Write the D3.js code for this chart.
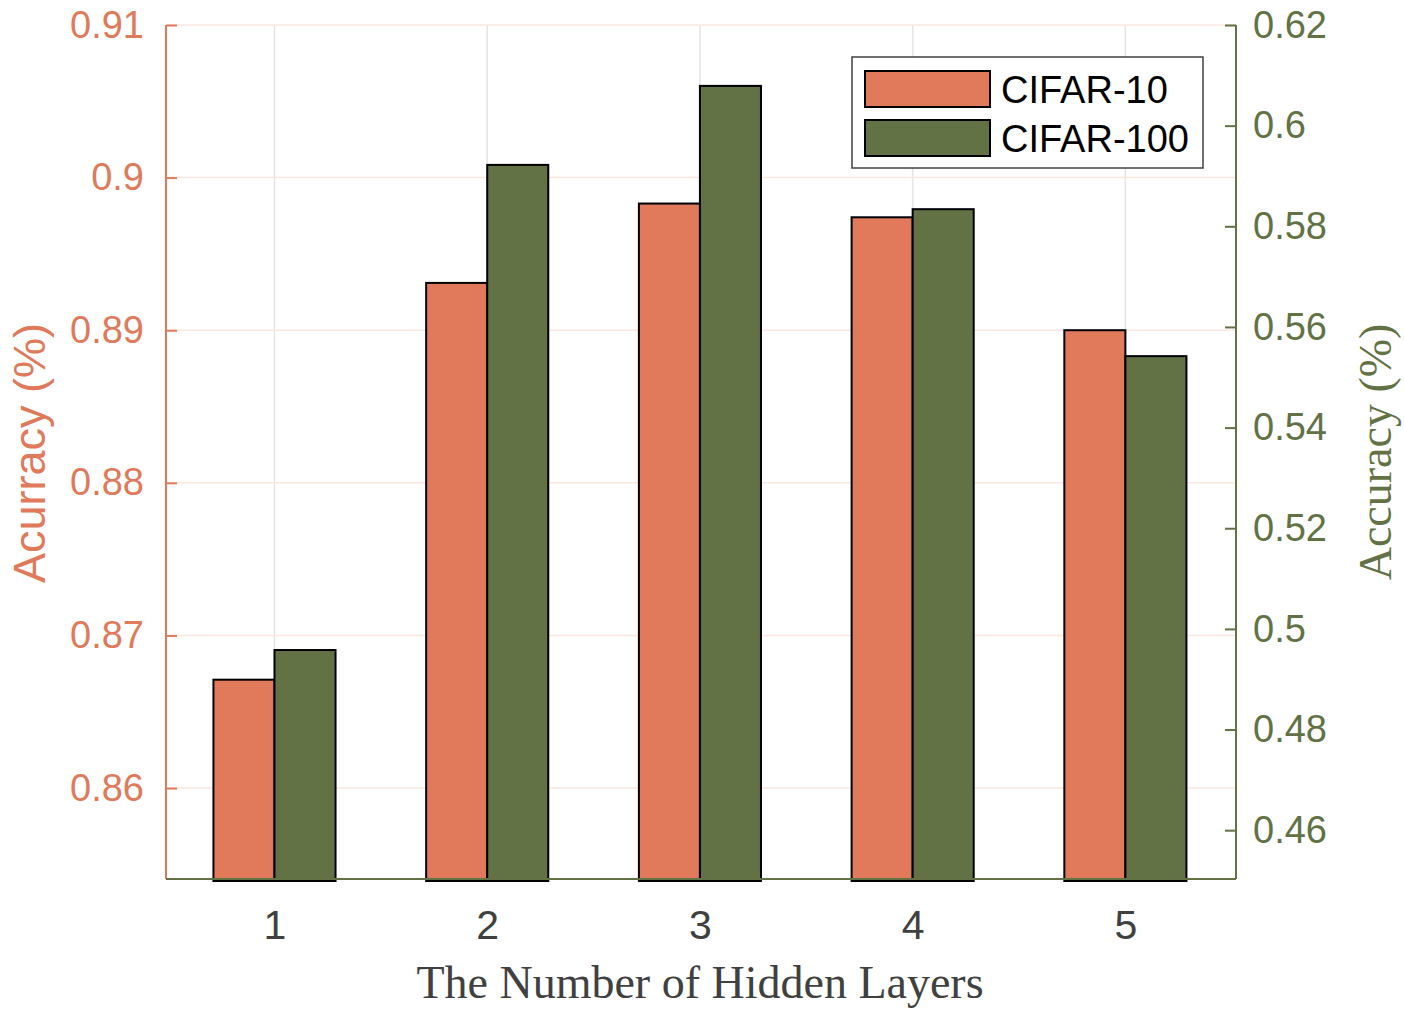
<!DOCTYPE html>
<html>
<head>
<meta charset="utf-8">
<script src="https://cdn.jsdelivr.net/npm/d3@7"></script>
<style>
  body { margin: 0; background: #fff; }
  svg { display: block; }
</style>
</head>
<body>
<script>
// data
var layers = [1, 2, 3, 4, 5];
var cifar10 = [0.8671, 0.8931, 0.8983, 0.8974, 0.8900];
var cifar100 = [0.4958, 0.5922, 0.6079, 0.5834, 0.5542];
var leftTicks = [0.86, 0.87, 0.88, 0.89, 0.90, 0.91];
var rightTicks = [0.46, 0.48, 0.50, 0.52, 0.54, 0.56, 0.58, 0.60, 0.62];
var seriesNames = ["CIFAR-10", "CIFAR-100"];

var orange = "#e07a5a";
var green = "#627244";

var W = 1404, H = 1011;
var margin = {top: 25, right: 168, bottom: 132, left: 166};
var width = W - margin.left - margin.right;
var height = H - margin.top - margin.bottom;

var svg = d3.select("body").append("svg")
    .attr("width", W)
    .attr("height", H);

var g = svg.append("g")
    .attr("transform", "translate(" + margin.left + "," + margin.top + ")");

// scales
var x = d3.scaleLinear().domain([0.49, 5.52]).range([0, width]);
var yL = d3.scaleLinear().domain([0.85404, 0.91]).range([height, 0]);
var yR = d3.scaleLinear().domain([0.4503, 0.62]).range([height, 0]);
var bw = x(1.287) - x(1);

// grid lines
g.append("g").selectAll("line")
    .data(layers)
    .enter().append("line")
    .attr("x1", function(d) { return x(d); })
    .attr("x2", function(d) { return x(d); })
    .attr("y1", 0)
    .attr("y2", height)
    .style("stroke", "#e4e4e4")
    .style("stroke-width", 1.5);

g.append("g").selectAll("line")
    .data(leftTicks)
    .enter().append("line")
    .attr("x1", 0)
    .attr("x2", width)
    .attr("y1", function(d) { return yL(d); })
    .attr("y2", function(d) { return yL(d); })
    .style("stroke", "#fbe7e0")
    .style("stroke-width", 1.5);

// bars
g.append("g").selectAll("rect")
    .data(cifar10)
    .enter().append("rect")
    .attr("x", function(d, i) { return x(layers[i]) - bw; })
    .attr("y", function(d) { return yL(d); })
    .attr("width", bw)
    .attr("height", function(d) { return height + 2 - yL(d); })
    .style("fill", orange)
    .style("stroke", "#000")
    .style("stroke-width", 2);

g.append("g").selectAll("rect")
    .data(cifar100)
    .enter().append("rect")
    .attr("x", function(d, i) { return x(layers[i]); })
    .attr("y", function(d) { return yR(d); })
    .attr("width", bw)
    .attr("height", function(d) { return height + 2 - yR(d); })
    .style("fill", green)
    .style("stroke", "#000")
    .style("stroke-width", 2);

// axes
var fmt = function(d) { return d3.format("")(+d.toFixed(2)); };

var axL = g.append("g")
    .call(d3.axisLeft(yL).tickValues(leftTicks).tickSize(-11).tickPadding(22).tickFormat(fmt));
axL.select(".domain").remove();
axL.selectAll("line").style("stroke", orange).style("stroke-width", 2);
axL.selectAll("text").style("fill", orange).style("font-family", "Arial, 'Liberation Sans', sans-serif").style("font-size", "38px");
g.append("line").attr("x1", 0).attr("x2", 0).attr("y1", 0).attr("y2", height)
    .style("stroke", orange).style("stroke-width", 2);

var axR = g.append("g")
    .attr("transform", "translate(" + width + ",0)")
    .call(d3.axisRight(yR).tickValues(rightTicks).tickSize(-11).tickPadding(17).tickFormat(fmt));
axR.select(".domain").remove();
axR.selectAll("line").style("stroke", green).style("stroke-width", 2);
axR.selectAll("text").style("fill", green).style("font-family", "Arial, 'Liberation Sans', sans-serif").style("font-size", "38px");
g.append("line").attr("x1", width).attr("x2", width).attr("y1", 0).attr("y2", height)
    .style("stroke", green).style("stroke-width", 2);

// bottom axis
var axB = g.append("g")
    .attr("transform", "translate(0," + height + ")")
    .call(d3.axisBottom(x).tickValues(layers).tickSize(0).tickPadding(31).tickFormat(d3.format("d")));
axB.select(".domain").remove();
axB.selectAll("text").style("fill", "#404040").style("font-family", "Arial, 'Liberation Sans', sans-serif").style("font-size", "41px");
g.append("line").attr("x1", 0).attr("x2", width).attr("y1", height).attr("y2", height)
    .style("stroke", green).style("stroke-width", 2);

// axis titles
svg.append("text")
    .attr("transform", "translate(45," + (margin.top + 428) + ") rotate(-90)")
    .attr("text-anchor", "middle")
    .style("font-family", "Arial, 'Liberation Sans', sans-serif")
    .style("font-size", "45px")
    .style("fill", orange)
    .text("Acurracy (%)");

svg.append("text")
    .attr("transform", "translate(1391," + (margin.top + 427) + ") rotate(-90)")
    .attr("text-anchor", "middle")
    .style("font-family", "'Times New Roman', 'Liberation Serif', serif")
    .style("font-size", "46px")
    .style("fill", green)
    .text("Accuracy (%)");

svg.append("text")
    .attr("x", 700)
    .attr("y", 998)
    .attr("text-anchor", "middle")
    .style("font-family", "'Times New Roman', 'Liberation Serif', serif")
    .style("font-size", "46px")
    .style("fill", "#404040")
    .text("The Number of Hidden Layers");

// legend
var legend = svg.append("g").attr("transform", "translate(852,57)");
legend.append("rect")
    .attr("width", 351)
    .attr("height", 111)
    .style("fill", "#fff")
    .style("stroke", "#404040")
    .style("stroke-width", 1.5);

var items = legend.selectAll(".item")
    .data(seriesNames)
    .enter().append("g")
    .attr("class", "item")
    .attr("transform", function(d, i) { return "translate(13," + (14 + i * 49) + ")"; });

items.append("rect")
    .attr("width", 125)
    .attr("height", 36)
    .style("fill", function(d, i) { return i === 0 ? orange : green; })
    .style("stroke", "#000")
    .style("stroke-width", 2);

items.append("text")
    .attr("x", 136)
    .attr("y", 19)
    .attr("dy", "0.35em")
    .style("font-family", "Arial, 'Liberation Sans', sans-serif")
    .style("font-size", "38px")
    .style("fill", "#000")
    .text(function(d) { return d; });
</script>
</body>
</html>
